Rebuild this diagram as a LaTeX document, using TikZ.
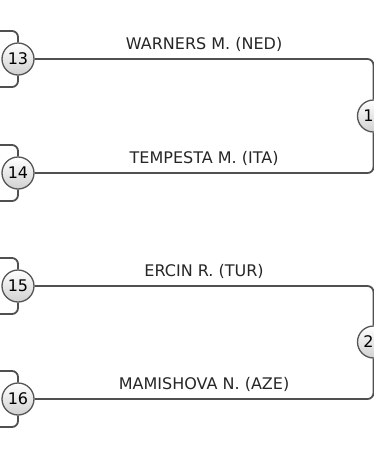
\documentclass[tikz,border=0pt]{standalone}
\usepackage{fontspec}
\setmainfont{DejaVu Sans}
\definecolor{wirecol}{HTML}{505050}
\definecolor{ringcol}{HTML}{555555}

\begin{document}
\begin{tikzpicture}[x=1pt,y=-1pt,
    wire/.style={draw=wirecol,line width=1.8pt,rounded corners=6pt},
    match/.style={circle,draw=ringcol,line width=1.3pt,minimum size=32pt,inner sep=0pt,
        top color=white,bottom color=black!18,font=\fontsize{16pt}{19pt}\selectfont},
    player/.style={above=6pt,inner sep=0pt,font=\fontsize{16pt}{19pt}\selectfont,text=black!85}]
    \useasboundingbox (0,0) rectangle (374,451);
    \node[match] (m13) at (18,59) {13};
    \node[match] (m14) at (18,173) {14};
    \node[match] (m15) at (18,286) {15};
    \node[match] (m16) at (18,399) {16};
    \node[match] (m19) at (373.5,116) {1\phantom{9}};
    \node[match] (m20) at (373.5,342) {2\phantom{0}};
    % loose ends on the left
    \coordinate (a13) at (-3,31);  \coordinate (b13) at (-3,87);
    \coordinate (a14) at (-3,145); \coordinate (b14) at (-3,201);
    \coordinate (a15) at (-3,258); \coordinate (b15) at (-3,314);
    \coordinate (a16) at (-3,371); \coordinate (b16) at (-3,427);
    \foreach \m in {13,14,15,16} {
        \draw[wire] (m\m.north) |- (a\m);
        \draw[wire] (m\m.south) |- (b\m);
    }
    \draw[wire] (m13.east) -| node[pos=0.25,player] {WARNERS M. (NED)} (m19.north);
    \draw[wire] (m19.south) |- node[pos=0.75,player] {TEMPESTA M. (ITA)} (m14.east);
    \draw[wire] (m15.east) -| node[pos=0.25,player] {ERCIN R. (TUR)} (m20.north);
    \draw[wire] (m20.south) |- node[pos=0.75,player] {MAMISHOVA N. (AZE)} (m16.east);
\end{tikzpicture}
\end{document}
